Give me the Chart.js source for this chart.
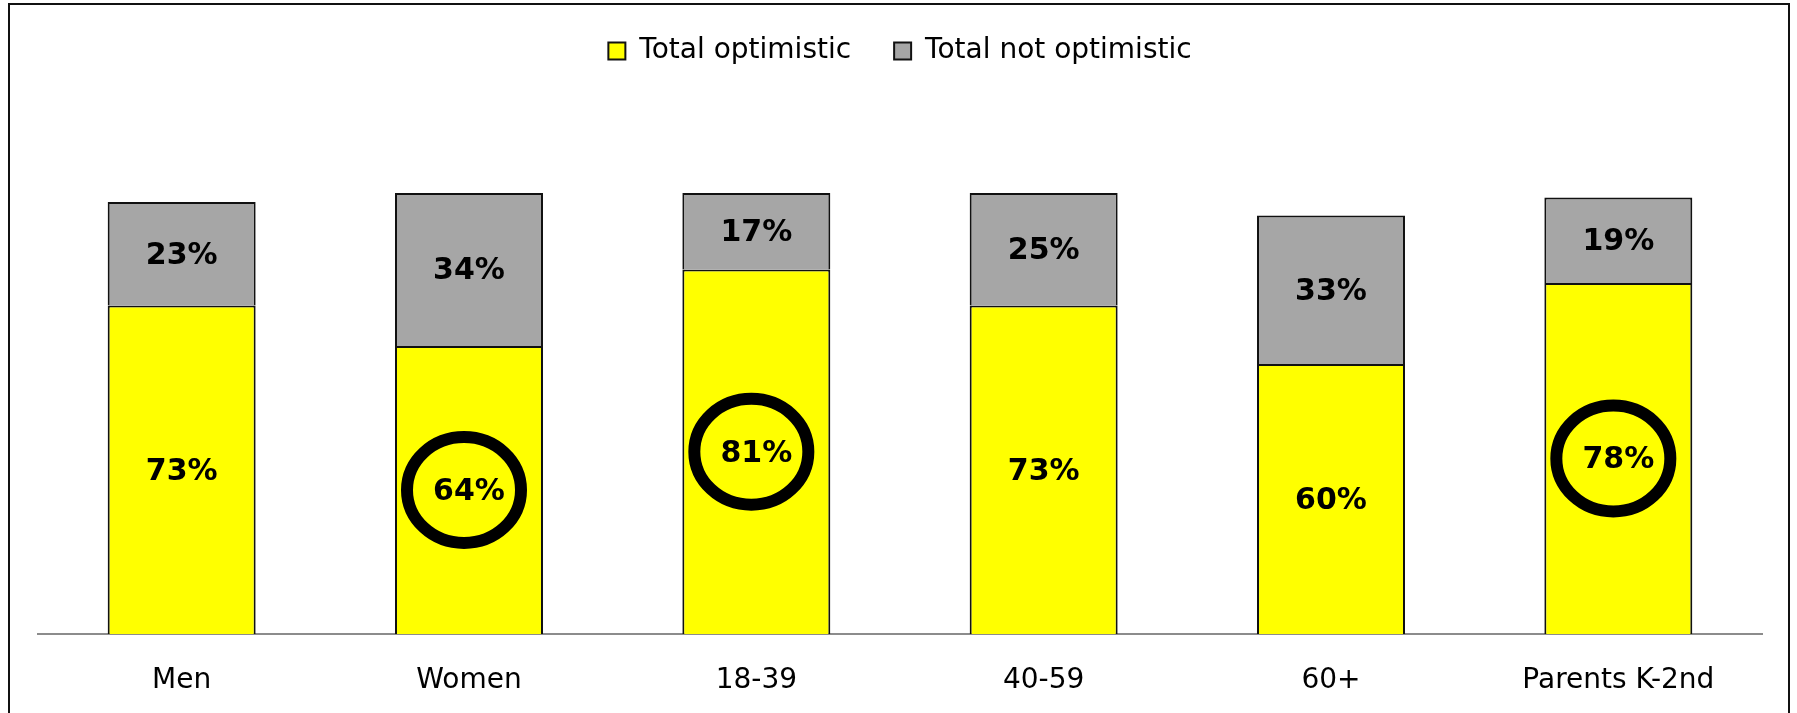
<!DOCTYPE html>
<html lang="en">
<head>
    <meta charset="UTF-8">
    <title>Optimism by group</title>
    <script src="https://cdn.jsdelivr.net/npm/chart.js"></script>
    <style>
        html, body {
            margin: 0;
            padding: 0;
            background: white;
            overflow: hidden;
        }

        .frame {
            position: absolute;
            left: 8px;
            top: 3px;
            width: 1778px;
            height: 760px;
            border: 2.5px solid #111;
        }

        #grafico {
            position: absolute;
            left: 0;
            top: 0;
        }
    </style>
</head>
<body>

    <div class="frame"></div>
    <canvas id="grafico" width="1797" height="713"></canvas>

    <script>
        // Dados
        const categorias = ["Men", "Women", "18-39", "40-59", "60+", "Parents K-2nd"];
        const otimistas = [73, 64, 81, 73, 60, 78];
        const naoOtimistas = [23, 34, 17, 25, 33, 19];
        const destacados = [false, true, true, false, false, true];

        const fonte = "'Century Gothic', 'DejaVu Sans', sans-serif";

        // Rótulos dentro das barras + círculos de destaque
        const rotulosPlugin = {
            id: "rotulos",
            afterDatasetsDraw(chart) {
                const ctx = chart.ctx;
                ctx.save();
                ctx.textAlign = "center";
                ctx.textBaseline = "middle";
                ctx.font = "bold 30px " + fonte;
                ctx.fillStyle = "#000";
                chart.data.datasets.forEach((ds, di) => {
                    const meta = chart.getDatasetMeta(di);
                    meta.data.forEach((bar, i) => {
                        const meio = (bar.y + bar.base) / 2;
                        ctx.fillText(ds.data[i] + "%", bar.x, meio + 2);
                        if (di === 0 && destacados[i]) {
                            ctx.beginPath();
                            ctx.lineWidth = 12;
                            ctx.strokeStyle = "#000";
                            ctx.ellipse(bar.x - 5, meio, 57, 53, 0, 0, Math.PI * 2);
                            ctx.stroke();
                        }
                    });
                });
                ctx.restore();
            }
        };

        // Espaço extra abaixo da legenda
        const legendaAltura = {
            id: "legendaAltura",
            beforeInit(chart) {
                const fitOriginal = chart.legend.fit;
                chart.legend.fit = function () {
                    fitOriginal.bind(chart.legend)();
                    this.height = 190;
                };
            }
        };

        new Chart(document.getElementById("grafico").getContext("2d"), {
            type: "bar",
            data: {
                labels: categorias,
                datasets: [{
                    label: "Total optimistic",
                    data: otimistas,
                    backgroundColor: "#FFFF00",
                    borderColor: "#111",
                    borderWidth: 2,
                    barPercentage: 0.515,
                    categoryPercentage: 1
                }, {
                    label: "Total not optimistic",
                    data: naoOtimistas,
                    backgroundColor: "#A6A6A6",
                    borderColor: "#111",
                    borderWidth: 2,
                    barPercentage: 0.515,
                    categoryPercentage: 1
                }]
            },
            options: {
                responsive: false,
                animation: false,
                layout: {
                    padding: { top: -6, left: 38, right: 35, bottom: 15 }
                },
                plugins: {
                    tooltip: { enabled: false },
                    legend: {
                        position: "top",
                        labels: {
                            color: "#000",
                            font: { family: fonte, size: 28 },
                            boxWidth: 17,
                            boxHeight: 17,
                            padding: 43
                        }
                    }
                },
                scales: {
                    x: {
                        stacked: true,
                        grid: { display: false, drawTicks: false },
                        border: { display: true, color: "#8C8C8C", width: 2 },
                        ticks: {
                            color: "#000",
                            padding: 30,
                            maxRotation: 0,
                            font: { family: fonte, size: 28 }
                        },
                        afterFit(scale) {
                            scale.height = 64;
                        }
                    },
                    y: {
                        stacked: true,
                        display: false,
                        min: 0,
                        max: 100
                    }
                }
            },
            plugins: [rotulosPlugin, legendaAltura]
        });
    </script>

</body>
</html>
